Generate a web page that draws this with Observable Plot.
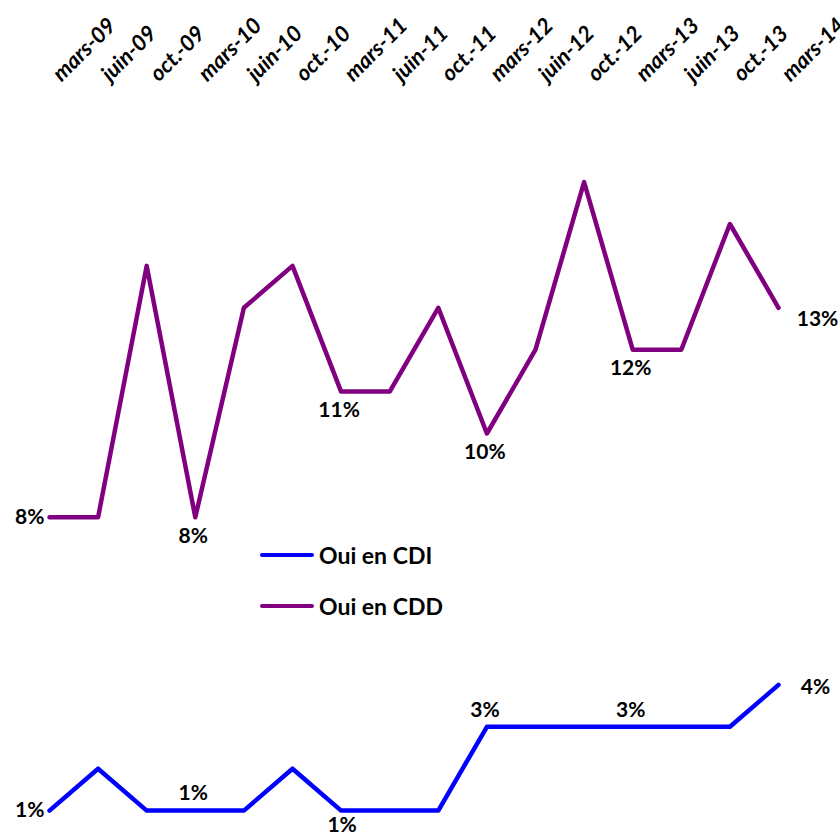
<!DOCTYPE html>
<html>
<head>
<meta charset="utf-8">
<script src="https://cdn.jsdelivr.net/npm/d3@7"></script>
<script src="https://cdn.jsdelivr.net/npm/@observablehq/plot@0.6"></script>
<style>
  html, body { margin: 0; padding: 0; background: #fff; }
  #wrap { position: relative; width: 840px; height: 835px; font-family: Lato, "Open Sans", sans-serif; }
  #legend { position: absolute; left: 260px; top: 537px; font-weight: bold; font-size: 23px; color: #000; }
  .li { display: flex; align-items: center; height: 36px; margin-bottom: 15px; }
  .sw { width: 54px; height: 4px; border-radius: 2px; margin-right: 5px; }
</style>
</head>
<body>
<div id="wrap"><div id="legend"></div></div>
<script>
const months = ["mars-09","juin-09","oct.-09","mars-10","juin-10","oct.-10","mars-11","juin-11","oct.-11","mars-12","juin-12","oct.-12","mars-13","juin-13","oct.-13","mars-14"];
const cdd = [8, 8, 14, 8, 13, 14, 11, 11, 13, 10, 12, 16, 12, 12, 15, 13];
const cdi = [1, 2, 1, 1, 1, 2, 1, 1, 1, 3, 3, 3, 3, 3, 3, 4];
const cddLabels = ["8%", null, null, "8%", null, null, "11%", null, null, "10%", null, null, "12%", null, null, "13%"];
const cdiLabels = ["1%", null, null, "1%", null, null, "1%", null, null, "3%", null, null, "3%", null, null, "4%"];
const seriesNames = ["Oui en CDI", "Oui en CDD"];
const seriesColors = ["#0000FF", "#800080"];

const rows = [];
months.forEach((m, i) => {
  rows.push({month: m, value: cdi[i], series: seriesNames[0], label: cdiLabels[i], i});
  rows.push({month: m, value: cdd[i], series: seriesNames[1], label: cddLabels[i], i});
});

// label placement (style only)
const place = {
  "Oui en CDD": {0: "left", 3: "below", 6: "below", 9: "below", 12: "below", 15: "rightbelow"},
  "Oui en CDI": {0: "left", 3: "above", 6: "belowtight", 9: "above", 12: "above", 15: "rightabove"}
};
const labeled = rows.filter(d => d.label);
const byPlace = p => labeled.filter(d => place[d.series][d.i] === p);
const textStyle = {x: "month", y: "value", text: "label", fontWeight: "bold", fontSize: 21, fill: "#000"};

const chart = Plot.plot({
  width: 840,
  height: 835,
  margin: 0,
  style: {fontFamily: "Lato, 'Open Sans', sans-serif", background: "#fff"},
  x: {type: "point", domain: months, range: [49, 778], padding: 0, round: false, axis: null},
  y: {domain: [0, 16], range: [852, 181.6], axis: null},
  color: {domain: seriesNames, range: seriesColors},
  marks: [
    Plot.text(months, {x: d => d, frameAnchor: "top", dy: 71, dx: 1, rotate: -45, textAnchor: "start", fontWeight: "bold", fontStyle: "italic", fontSize: 22, fill: "#000"}),
    Plot.line(rows, {x: "month", y: "value", z: "series", stroke: "series", strokeWidth: 4.5, strokeLinejoin: "round", strokeLinecap: "round"}),
    Plot.text(byPlace("left"), {...textStyle, textAnchor: "end", dx: -5}),
    Plot.text(byPlace("below"), {...textStyle, dy: 19, dx: -2}),
    Plot.text(byPlace("belowtight"), {...textStyle, dy: 15, dx: 1}),
    Plot.text(byPlace("above"), {...textStyle, dy: -17, dx: -2}),
    Plot.text(byPlace("rightbelow"), {...textStyle, dx: 39, dy: 11}),
    Plot.text(byPlace("rightabove"), {...textStyle, dx: 37, dy: 2})
  ]
});
const wrap = document.getElementById("wrap");
wrap.insertBefore(chart, wrap.firstChild);

const legend = document.getElementById("legend");
seriesNames.forEach((name, k) => {
  const li = document.createElement("div");
  li.className = "li";
  li.innerHTML = `<span class="sw" style="background:${seriesColors[k]}"></span><span>${name}</span>`;
  legend.appendChild(li);
});
</script>
</body>
</html>
